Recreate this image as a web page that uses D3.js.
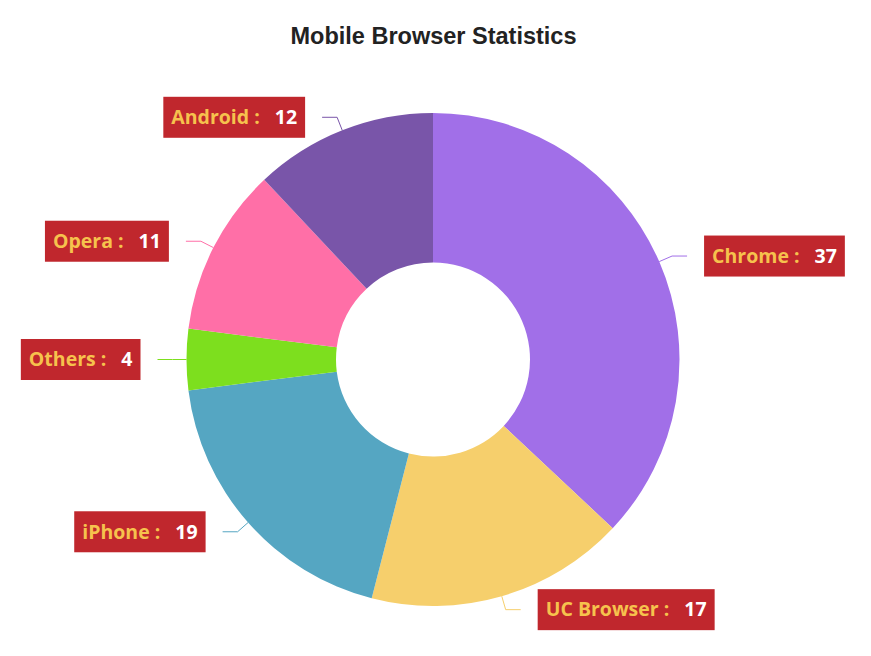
<!DOCTYPE html>
<html>
<head>
<meta charset="utf-8">
<script src="https://cdn.jsdelivr.net/npm/d3@7"></script>
<style>
  body { margin: 0; background: #fff; }
</style>
</head>
<body>
<script>
// data
const browsers = ["Chrome", "UC Browser", "iPhone", "Others", "Opera", "Android"];
const shares = [37, 17, 19, 4, 11, 12];
const sliceColors = ["#a16fe8", "#f6cf6c", "#55a6c2", "#7ddf1e", "#ff6fa7", "#7955a9"];

const data = browsers.map((name, i) => ({ name, value: shares[i] }));

const width = 871;
const height = 656;
const cx = 433, cy = 359.5;
const outerR = 246.5, innerR = 97;

const svg = d3.select("body").append("svg")
  .attr("width", width)
  .attr("height", height);

// Title
svg.append("text")
  .attr("x", width / 2 - 2)
  .attr("y", 44)
  .attr("text-anchor", "middle")
  .style("font-family", "'Liberation Sans', Arial, sans-serif")
  .style("font-size", "23.5px")
  .style("font-weight", "bold")
  .style("fill", "#222")
  .text("Mobile Browser Statistics");

const g = svg.append("g")
  .attr("transform", `translate(${cx},${cy})`);

const color = d3.scaleOrdinal().domain(browsers).range(sliceColors);

const pie = d3.pie().value(d => d.value).sort(null);
const arc = d3.arc().innerRadius(innerR).outerRadius(outerR);

const arcs = pie(data);

g.selectAll("path.slice")
  .data(arcs)
  .enter()
  .append("path")
  .attr("class", "slice")
  .attr("d", arc)
  .attr("fill", d => color(d.data.name));

// connectors + labels
const elbowR = outerR + 14;
const hLen = 15;
const gap = 17;

function midAngle(d) { return (d.startAngle + d.endAngle) / 2; }

arcs.forEach(d => {
  const a = midAngle(d);
  const right = Math.sin(a) >= 0;
  const p0 = [Math.sin(a) * outerR, -Math.cos(a) * outerR];
  const p1 = [Math.sin(a) * elbowR, -Math.cos(a) * elbowR];
  const p2 = [p1[0] + (right ? hLen : -hLen), p1[1]];

  g.append("polyline")
    .attr("points", [p0, p1, p2].map(p => p.join(",")).join(" "))
    .attr("fill", "none")
    .attr("stroke", color(d.data.name))
    .attr("stroke-width", 1);

  const lg = g.append("g");
  const rect = lg.append("rect").attr("fill", "#c0272d");
  const txt = lg.append("text")
    .style("font-family", "'Open Sans', 'Noto Sans', sans-serif")
    .style("font-size", "19.5px")
    .style("font-weight", "bold")
    .attr("dy", "0.35em");
  txt.append("tspan").attr("fill", "#f6c24d").text(d.data.name + " :");
  txt.append("tspan").attr("fill", "#fff").attr("dx", 15).text(d.data.value);

  const tw = txt.node().getComputedTextLength() + 15;
  const padX = 8, boxH = 41;
  const boxW = tw + padX * 2;
  const bx = right ? p2[0] + gap : p2[0] - gap - boxW;
  rect.attr("x", bx).attr("y", p2[1] - boxH / 2)
    .attr("width", boxW).attr("height", boxH);
  txt.attr("x", bx + padX).attr("y", p2[1]);
});
</script>
</body>
</html>
